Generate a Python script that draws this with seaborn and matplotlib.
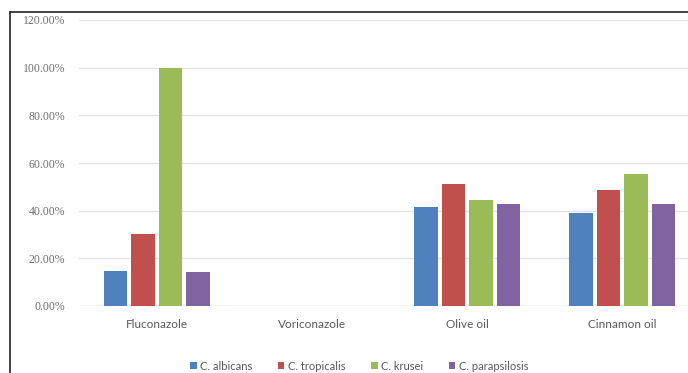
import matplotlib
matplotlib.use("Agg")
import matplotlib.pyplot as plt
import seaborn as sns
import pandas as pd
from matplotlib.patches import Patch
from matplotlib.lines import Line2D
from matplotlib.ticker import FuncFormatter

# Inhibition by treatment and Candida species
treatments = ["Fluconazole", "Voriconazole", "Olive oil", "Cinnamon oil"]
species = ["C. albicans", "C. tropicalis", "C. krusei", "C. parapsilosis"]
albicans = [0.147, 0.0, 0.414, 0.389]
tropicalis = [0.302, 0.0, 0.510, 0.488]
krusei = [1.000, 0.0, 0.443, 0.555]
parapsilosis = [0.143, 0.0, 0.429, 0.429]
colors = ["#4F81BD", "#C0504D", "#9BBB59", "#8064A2"]
y_ticks = [0.0, 0.2, 0.4, 0.6, 0.8, 1.0, 1.2]

rows = []
for sp, vals in zip(species, [albicans, tropicalis, krusei, parapsilosis]):
    for t, v in zip(treatments, vals):
        rows.append({"Treatment": t, "Species": sp, "Value": v})
df = pd.DataFrame(rows)

sns.set_theme(style="white")
W, H = 688, 373
fig = plt.figure(figsize=(W / 100, H / 100), dpi=100)
ax = fig.add_axes([79 / W, (H - 306) / H, 621 / W, 286 / H])

sns.barplot(data=df, x="Treatment", y="Value", hue="Species",
            order=treatments, hue_order=species, palette=colors,
            width=0.71, gap=0.15, errorbar=None, ax=ax, legend=False,
            saturation=1, edgecolor="none", zorder=3)

ax.set_ylim(0, 1.2)
ax.set_xlim(-0.5, 3.5)
ax.set_yticks(y_ticks)
ax.yaxis.set_major_formatter(FuncFormatter(lambda v, _: f"{v * 100:.2f}%"))
ax.grid(axis="y", color="#E3E3E3", linewidth=1.0, zorder=0)
ax.grid(axis="x", visible=False)
for s in ax.spines.values():
    s.set_visible(False)
ax.axhline(0, color="#D9D9D9", linewidth=1.0, zorder=2)
ax.set_xlabel("")
ax.set_ylabel("")
ax.tick_params(axis="y", length=0, pad=10, labelsize=8.5, labelcolor="#707070")
ax.tick_params(axis="x", length=0, pad=9, labelsize=8.5, labelcolor="#595959")
for lab in ax.get_yticklabels():
    lab.set_fontfamily("Liberation Serif")
for lab in ax.get_xticklabels():
    lab.set_fontfamily("Lato")

handles = [Patch(facecolor=c, edgecolor="none") for c in colors]
leg = fig.legend(handles, species, loc="center", bbox_to_anchor=(359 / W, (H - 366) / H),
                 ncol=4, frameon=False, handlelength=0.6, handleheight=0.6,
                 handletextpad=0.3, columnspacing=2.3,
                 prop={"family": "Lato", "size": 8})
for t in leg.get_texts():
    t.set_color("#595959")

# outer chart frame
fig.add_artist(Line2D([10 / W, 10 / W], [0, (H - 12) / H], color="#222222", linewidth=1.2,
                      transform=fig.transFigure))
fig.add_artist(Line2D([10 / W, 1], [(H - 12) / H, (H - 12) / H], color="#222222", linewidth=1.2,
                      transform=fig.transFigure))

fig.savefig("out.png", dpi=100)
